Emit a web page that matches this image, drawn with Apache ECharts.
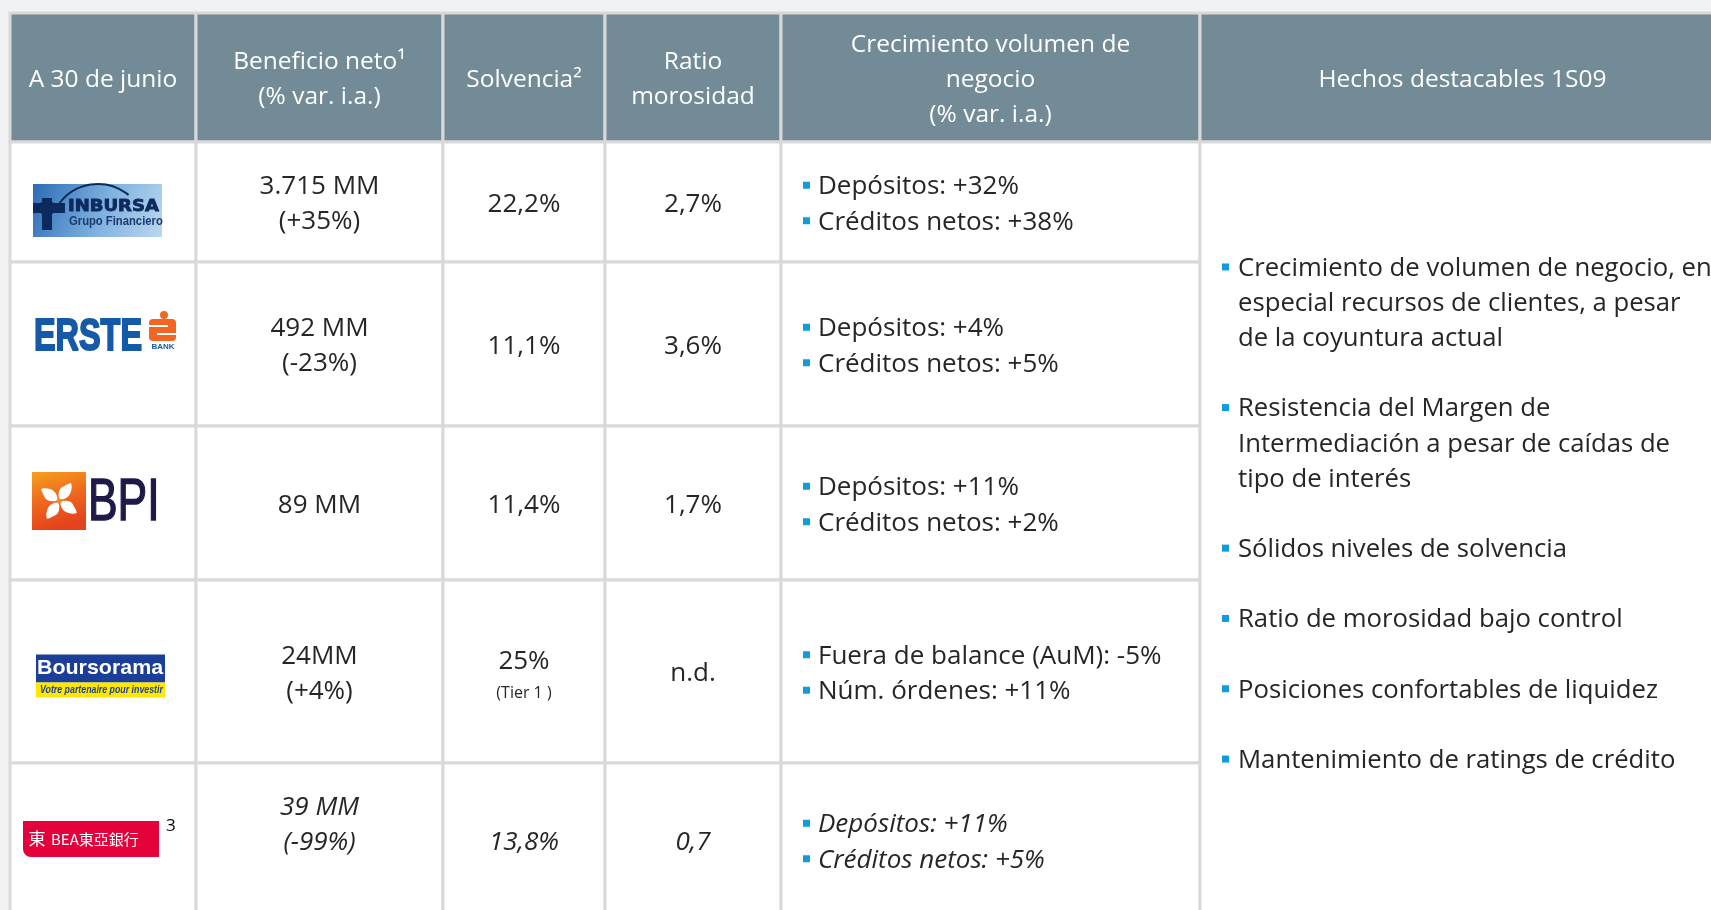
<!DOCTYPE html>
<html>
<head>
<meta charset="utf-8">
<script src="https://cdn.jsdelivr.net/npm/echarts@6/dist/echarts.min.js"></script>
<style>
  html, body { margin: 0; padding: 0; background: #f1f2f4; }
  #main { width: 1711px; height: 910px; }
</style>
</head>
<body>
<div id="main"></div>
<script>
// cabeceras y datos de la tabla
var headers = ['A 30 de junio', 'Beneficio neto¹\n(% var. i.a.)', 'Solvencia²', 'Ratio\nmorosidad',
  'Crecimiento volumen de\nnegocio\n(% var. i.a.)', 'Hechos destacables 1S09'];
var banks = ['Inbursa', 'Erste', 'BPI', 'Boursorama', 'BEA'];
var beneficio = ['3.715 MM', '492 MM', '89 MM', '24MM', '39 MM'];
var beneficioVar = ['(+35%)', '(-23%)', '', '(+4%)', '(-99%)'];
var solvencia = ['22,2%', '11,1%', '11,4%', '25%', '13,8%'];
var solvenciaNota = ['', '', '', '(Tier 1 )', ''];
var morosidad = ['2,7%', '3,6%', '1,7%', 'n.d.', '0,7'];
var crecimiento = [
  ['Depósitos: +32%', 'Créditos netos: +38%'],
  ['Depósitos: +4%', 'Créditos netos: +5%'],
  ['Depósitos: +11%', 'Créditos netos: +2%'],
  ['Fuera de balance (AuM): -5%', 'Núm. órdenes: +11%'],
  ['Depósitos: +11%', 'Créditos netos: +5%']
];
var cursiva = [false, false, false, false, true];
var hechos = [
  ['Crecimiento de volumen de negocio, en', 'especial recursos de clientes, a pesar', 'de la coyuntura actual'],
  ['Resistencia del Margen de', 'Intermediación a pesar de caídas de', 'tipo de interés'],
  ['Sólidos niveles de solvencia'],
  ['Ratio de morosidad bajo control'],
  ['Posiciones confortables de liquidez'],
  ['Mantenimiento de ratings de crédito']
];

// bordes de columnas y filas (en unidades del eje)
var colEdges = [10, 196, 443, 605, 781, 1200, 1725];
var rowEdges = [13, 142, 262, 426, 580, 763, 917];
// pequeños desplazamientos verticales del texto
var DY = 2.5;
var BENEF_DY = [0, 0, 0, 0, -17.5];
var HECHOS_DY = -17.5;

var FONT = 'Open Sans';
var INK = '#262626';
var HEAD_BG = '#738b97';
var LINE = '#d9d9d9';
var BULLET = '#109cdb';

function txt(s, x, y, st) {
  return {
    type: 'text', x: x, y: y + DY,
    style: Object.assign({
      text: s, fontFamily: FONT, fontSize: 26, fill: INK,
      align: 'center', verticalAlign: 'middle'
    }, st || {})
  };
}

function bullet(x, y) {
  return { type: 'rect', shape: { x: x, y: y - 5 + DY, width: 7, height: 7 }, style: { fill: BULLET } };
}

function logo(name, L, my) {
  var navy = '#0d2a5e';
  if (name === 'Inbursa') {
    return [
      { type: 'rect', shape: { x: L + 23, y: my - 18, width: 129, height: 53 },
        style: { fill: { type: 'linear', x: 0, y: 0, x2: 1, y2: 1,
          colorStops: [{ offset: 0, color: '#2c6cb4' }, { offset: 0.55, color: '#7fb2e0' }, { offset: 1, color: '#bcd7ee' }] } } },
      { type: 'arc', shape: { cx: L + 88, cy: my + 30, r: 48, startAngle: Math.PI * 1.2, endAngle: Math.PI * 1.72 },
        style: { stroke: navy, lineWidth: 2, fill: null } },
      { type: 'rect', shape: { x: L + 32, y: my - 4, width: 10, height: 32 }, style: { fill: navy } },
      { type: 'rect', shape: { x: L + 23, y: my + 1, width: 32, height: 10 }, style: { fill: navy } },
      { type: 'circle', shape: { cx: L + 37, cy: my + 6, r: 8 }, style: { fill: navy } },
      { type: 'text', x: L + 58, y: my + 5, scaleX: 1.2,
        style: { text: 'INBURSA', fontFamily: 'DejaVu Sans', fontWeight: 'bold', fontSize: 15, fill: navy,
          stroke: navy, lineWidth: 0.8, align: 'left', verticalAlign: 'middle' } },
      { type: 'text', x: L + 59, y: my + 20, scaleX: 0.9,
        style: { text: 'Grupo Financiero', fontFamily: 'Liberation Sans', fontWeight: 'bold', fontSize: 12.5, fill: '#1b3b70', align: 'left', verticalAlign: 'middle' } }
    ];
  }
  if (name === 'Erste') {
    var or = '#f26522', bl = '#155aa8';
    return [
      { type: 'text', x: L + 24, y: my - 6, scaleX: 0.72,
        style: { text: 'ERSTE', fontFamily: 'Liberation Sans', fontWeight: 'bold', fontSize: 45, fill: bl,
          stroke: bl, lineWidth: 2, align: 'left', verticalAlign: 'middle' } },
      { type: 'circle', shape: { cx: L + 154, cy: my - 29, r: 4 }, style: { fill: or } },
      { type: 'rect', shape: { x: L + 139, y: my - 25, width: 27, height: 22, r: 4 }, style: { fill: or } },
      { type: 'rect', shape: { x: L + 139, y: my - 19, width: 19, height: 2 }, style: { fill: '#fff' } },
      { type: 'rect', shape: { x: L + 147, y: my - 11, width: 19, height: 2 }, style: { fill: '#fff' } },
      { type: 'text', x: L + 153, y: my + 3,
        style: { text: 'BANK', fontFamily: 'Liberation Sans', fontWeight: 'bold', fontSize: 8, fill: bl, align: 'center', verticalAlign: 'middle' } }
    ];
  }
  if (name === 'BPI') {
    var cx = L + 49, cy = my - 2, petals = [];
    [30, 120, 210, 300].forEach(function (a) {
      var t = a * Math.PI / 180, ux = Math.cos(t), uy = Math.sin(t), px = -uy, py = ux;
      petals.push({ type: 'polygon', shape: { smooth: 0.4, points: [
        [cx + ux * 2, cy + uy * 2],
        [cx + ux * 10 + px * 6, cy + uy * 10 + py * 6],
        [cx + ux * 21 + px * 2, cy + uy * 21 + py * 2],
        [cx + ux * 17 - px * 2, cy + uy * 17 - py * 2],
        [cx + ux * 10 - px * 5, cy + uy * 10 - py * 5]
      ] }, style: { fill: '#fff' } });
    });
    return [
      { type: 'rect', shape: { x: L + 22, y: my - 31, width: 54, height: 58 },
        style: { fill: { type: 'linear', x: 0, y: 0, x2: 0.3, y2: 1,
          colorStops: [{ offset: 0, color: '#f6a01c' }, { offset: 0.5, color: '#ee6a1f' }, { offset: 1, color: '#e4421c' }] } } }
    ].concat(petals).concat([
      { type: 'circle', shape: { cx: cx, cy: cy, r: 2.5 }, style: { fill: '#f08a3a' } },
      { type: 'text', x: L + 78, y: my, scaleX: 0.74,
        style: { text: 'BPI', fontFamily: 'Liberation Sans', fontSize: 60, fill: '#1d1a4a',
          stroke: '#1d1a4a', lineWidth: 1.5, align: 'left', verticalAlign: 'middle' } }
    ]);
  }
  if (name === 'Boursorama') {
    return [
      { type: 'rect', shape: { x: L + 26, y: my - 17, width: 129, height: 28 }, style: { fill: '#1b3f98' } },
      { type: 'rect', shape: { x: L + 26, y: my + 11, width: 129, height: 15 }, style: { fill: '#ffe800' } },
      { type: 'text', x: L + 90, y: my - 3, scaleX: 1.02,
        style: { text: 'Boursorama', fontFamily: 'Liberation Sans', fontWeight: 'bold', fontSize: 21, fill: '#fff', align: 'center', verticalAlign: 'middle' } },
      { type: 'text', x: L + 30, y: my + 18, scaleX: 0.8,
        style: { text: 'Votre partenaire pour investir', fontFamily: 'Liberation Sans', fontWeight: 'bold', fontStyle: 'italic', fontSize: 11, fill: '#1b3f98', align: 'left', verticalAlign: 'middle' } }
    ];
  }
  // BEA
  return [
    { type: 'rect', shape: { x: L + 13, y: my - 19, width: 136, height: 36, r: [0, 0, 0, 8] }, style: { fill: '#e3003b' } },
    { type: 'text', x: L + 27, y: my - 1,
      style: { text: '東', fontFamily: 'Noto Sans CJK TC', fontSize: 17, fill: '#fff', align: 'center', verticalAlign: 'middle' } },
    { type: 'text', x: L + 41, y: my - 1,
      style: { text: 'BEA東亞銀行', fontFamily: 'Noto Sans CJK TC', fontSize: 15, fill: '#fff', align: 'left', verticalAlign: 'middle' } },
    { type: 'text', x: L + 156, y: my - 14,
      style: { text: '3', fontFamily: FONT, fontSize: 17, fill: '#000', align: 'left', verticalAlign: 'middle' } }
  ];
}

function renderCell(params, api) {
  var c = api.value(0), r = api.value(1), span = api.value(2);
  var p0 = api.coord([colEdges[c], rowEdges[r]]);
  var p1 = api.coord([colEdges[c + 1], rowEdges[r + span]]);
  var x = p0[0], y = p0[1], w = p1[0] - p0[0], h = p1[1] - p0[1];
  var mx = x + w / 2, my = y + h / 2;
  var kids = [{
    type: 'rect',
    shape: { x: x, y: y, width: w, height: h },
    style: { fill: r === 0 ? HEAD_BG : '#fff', stroke: LINE, lineWidth: 3 }
  }];
  if (r === 0) {
    kids.push(txt(headers[c], mx, my, { fill: '#fff', fontSize: 24.5, lineHeight: 35 }));
    return { type: 'group', children: kids };
  }
  var i = r - 1;
  var fs = cursiva[i] ? 'italic' : 'normal';
  if (c === 0) {
    kids = kids.concat(logo(banks[i], x, my));
  } else if (c === 1) {
    var s = beneficio[i] + (beneficioVar[i] ? '\n' + beneficioVar[i] : '');
    kids.push(txt(s, mx, my + BENEF_DY[i], { lineHeight: 35, fontStyle: fs }));
  } else if (c === 2) {
    if (solvenciaNota[i]) {
      kids.push(txt(solvencia[i], mx, my - 12, { fontStyle: fs }));
      kids.push(txt(solvenciaNota[i], mx, my + 19, { fontSize: 16, fontStyle: fs }));
    } else {
      kids.push(txt(solvencia[i], mx, my, { fontStyle: fs }));
    }
  } else if (c === 3) {
    kids.push(txt(morosidad[i], mx, my, { fontStyle: fs }));
  } else if (c === 4) {
    crecimiento[i].forEach(function (line, k) {
      var ly = my + (k - 0.5) * 35.5;
      kids.push(bullet(x + 22, ly));
      kids.push(txt(line, x + 37, ly, { align: 'left', fontSize: 26, fontStyle: fs }));
    });
  } else if (c === 5) {
    // bloque de viñetas en la celda combinada
    var lh = 35.15, lines = [];
    hechos.forEach(function (item, k) {
      if (k > 0) lines.push(null);
      item.forEach(function (t, j) { lines.push({ t: t, first: j === 0 }); });
    });
    var top = my + HECHOS_DY - (lines.length - 1) / 2 * lh;
    lines.forEach(function (ln, k) {
      if (!ln) return;
      var ly = top + k * lh;
      if (ln.first) kids.push(bullet(x + 22, ly));
      kids.push(txt(ln.t, x + 38, ly, { align: 'left', fontSize: 25.7 }));
    });
  }
  return { type: 'group', children: kids };
}

// celdas: [columna, fila, filas ocupadas]
var cells = [];
for (var c = 0; c < headers.length; c++) cells.push([c, 0, 1]);
for (var r = 1; r <= banks.length; r++) {
  for (var c2 = 0; c2 < 5; c2++) cells.push([c2, r, 1]);
}
cells.push([5, 1, banks.length]);

var myChart = echarts.init(document.getElementById('main'));

var option = {
  backgroundColor: '#f1f2f4',
  animation: false,
  grid: { left: 0, right: 0, top: 0, bottom: 0 },
  xAxis: { type: 'value', min: 0, max: 1711, show: false },
  yAxis: { type: 'value', min: 0, max: 910, inverse: true, show: false },
  series: [{
    type: 'custom',
    renderItem: renderCell,
    data: cells,
    silent: true
  }]
};

myChart.setOption(option);
</script>
</body>
</html>
